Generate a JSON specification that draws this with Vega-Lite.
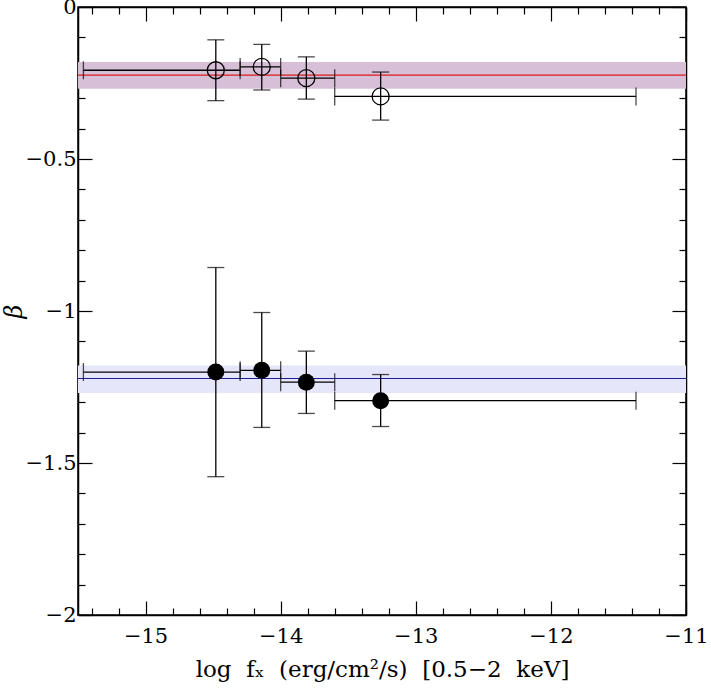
{
  "$schema": "https://vega.github.io/schema/vega-lite/v6.json",
  "width": 608,
  "height": 608,
  "autosize": "none",
  "padding": {"left": 78, "top": 7, "right": 25, "bottom": 76},
  "background": "white",
  "config": {
    "view": {"stroke": "black", "strokeWidth": 1.5},
    "axis": {
      "grid": false,
      "labelFont": "DejaVu Serif",
      "labelFontSize": 21,
      "labelColor": "black",
      "titleFont": "DejaVu Serif",
      "titleFontSize": 23,
      "titleFontWeight": "normal",
      "titleColor": "black",
      "domainColor": "black",
      "domainWidth": 1.5,
      "tickColor": "black",
      "tickWidth": 1.2,
      "labelFlush": false,
      "labelOverlap": false
    }
  },
  "datasets": {
    "pts": [
      {"group": "open", "x": -14.48, "xlo": -15.46, "xhi": -14.30, "y": -0.208, "ylo": -0.308, "yhi": -0.108},
      {"group": "open", "x": -14.14, "xlo": -14.30, "xhi": -14.00, "y": -0.197, "ylo": -0.273, "yhi": -0.123},
      {"group": "open", "x": -13.81, "xlo": -14.00, "xhi": -13.60, "y": -0.234, "ylo": -0.303, "yhi": -0.164},
      {"group": "open", "x": -13.26, "xlo": -13.60, "xhi": -11.37, "y": -0.294, "ylo": -0.372, "yhi": -0.214},
      {"group": "filled", "x": -14.48, "xlo": -15.46, "xhi": -14.30, "y": -1.201, "ylo": -1.545, "yhi": -0.857},
      {"group": "filled", "x": -14.14, "xlo": -14.30, "xhi": -14.00, "y": -1.195, "ylo": -1.383, "yhi": -1.005},
      {"group": "filled", "x": -13.81, "xlo": -14.00, "xhi": -13.60, "y": -1.234, "ylo": -1.337, "yhi": -1.132},
      {"group": "filled", "x": -13.26, "xlo": -13.60, "xhi": -11.37, "y": -1.295, "ylo": -1.380, "yhi": -1.209}
    ],
    "bands": [
      {"group": "open", "y": -0.224, "ylo": -0.269, "yhi": -0.181},
      {"group": "filled", "y": -1.222, "ylo": -1.270, "yhi": -1.179}
    ]
  },
  "resolve": {"axis": {"x": "independent", "y": "independent"}},
  "layer": [
    {
      "data": {"name": "bands"},
      "mark": {"type": "rect"},
      "encoding": {
        "y": {
          "field": "ylo", "type": "quantitative",
          "scale": {"domain": [-2, 0], "nice": false, "zero": false},
          "axis": {
            "orient": "left",
            "values": [0, -0.5, -1, -1.5, -2],
            "format": "~g",
            "labelExpr": "replace(datum.label, '-', '−')",
            "tickSize": -14,
            "labelPadding": 16,
            "title": "β",
            "titleFontSize": 24,
            "titleFontStyle": "italic",
            "titleX": -52,
            "titleY": 304,
            "titleAlign": "center",
            "titleBaseline": "bottom"
          }
        },
        "y2": {"field": "yhi"},
        "fill": {"field": "group", "type": "nominal", "scale": {"domain": ["open", "filled"], "range": ["#d8bfd8", "#e6e6fa"]}, "legend": null}
      }
    },
    {
      "data": {"name": "bands"},
      "mark": {"type": "rule", "strokeWidth": 1.2},
      "encoding": {
        "y": {
          "field": "y", "type": "quantitative",
          "axis": {"orient": "right", "values": [0, -0.5, -1, -1.5, -2], "labels": false, "title": null, "tickSize": -14}
        },
        "stroke": {"field": "group", "type": "nominal", "scale": {"domain": ["open", "filled"], "range": ["#d81b1b", "#1c1c9c"]}, "legend": null}
      }
    },
    {
      "data": {"name": "pts"},
      "mark": {"type": "rule", "color": "black", "strokeWidth": 1.3},
      "encoding": {
        "x": {
          "field": "xlo", "type": "quantitative",
          "scale": {"domain": [-15.5, -11], "nice": false, "zero": false},
          "axis": {
            "orient": "bottom",
            "values": [-15, -14, -13, -12, -11],
            "format": "d",
            "labelExpr": "replace(datum.label, '-', '−')",
            "tickSize": -14,
            "labelPadding": 24,
            "title": "log\u00a0 f\u2093\u00a0 (erg/cm²/s)\u00a0 [0.5−2\u00a0 keV]",
            "titlePadding": 12
          }
        },
        "x2": {"field": "xhi"},
        "y": {"field": "y", "type": "quantitative", "axis": null}
      }
    },
    {
      "data": {"name": "pts"},
      "mark": {"type": "rule", "color": "black", "strokeWidth": 1.3},
      "encoding": {
        "x": {
          "field": "x", "type": "quantitative",
          "axis": {"orient": "top", "values": [-15, -14, -13, -12, -11], "labels": false, "title": null, "tickSize": -14}
        },
        "y": {"field": "ylo", "type": "quantitative", "axis": null},
        "y2": {"field": "yhi"}
      }
    },
    {
      "data": {"name": "pts"},
      "transform": [{"fold": ["ylo", "yhi"], "as": ["k", "v"]}],
      "mark": {"type": "tick", "orient": "horizontal", "color": "black", "size": 17, "thickness": 1.3},
      "encoding": {
        "x": {
          "field": "x", "type": "quantitative",
          "axis": {"orient": "bottom", "values": [-15.4, -15.2, -14.8, -14.6, -14.4, -14.2, -13.8, -13.6, -13.4, -13.2, -12.8, -12.6, -12.4, -12.2, -11.8, -11.6, -11.4, -11.2], "labels": false, "title": null, "domain": false, "tickSize": -7}
        },
        "y": {"field": "v", "type": "quantitative", "axis": null}
      }
    },
    {
      "data": {"name": "pts"},
      "transform": [{"fold": ["xlo", "xhi"], "as": ["k", "v"]}],
      "mark": {"type": "tick", "orient": "vertical", "color": "black", "size": 18, "thickness": 1.3},
      "encoding": {
        "x": {
          "field": "v", "type": "quantitative",
          "axis": {"orient": "top", "values": [-15.4, -15.2, -14.8, -14.6, -14.4, -14.2, -13.8, -13.6, -13.4, -13.2, -12.8, -12.6, -12.4, -12.2, -11.8, -11.6, -11.4, -11.2], "labels": false, "title": null, "domain": false, "tickSize": -7}
        },
        "y": {"field": "y", "type": "quantitative", "axis": null}
      }
    },
    {
      "data": {"name": "pts"},
      "transform": [{"filter": "datum.group === 'open'"}],
      "mark": {"type": "point", "shape": "circle", "filled": false, "stroke": "black", "strokeWidth": 1.3, "size": 289, "opacity": 1},
      "encoding": {
        "x": {"field": "x", "type": "quantitative", "axis": null},
        "y": {
          "field": "y", "type": "quantitative",
          "axis": {"orient": "left", "values": [-0.1, -0.2, -0.3, -0.4, -0.6, -0.7, -0.8, -0.9, -1.1, -1.2, -1.3, -1.4, -1.6, -1.7, -1.8, -1.9], "labels": false, "title": null, "domain": false, "tickSize": -7}
        }
      }
    },
    {
      "data": {"name": "pts"},
      "transform": [{"filter": "datum.group === 'filled'"}],
      "mark": {"type": "point", "shape": "circle", "filled": true, "fill": "black", "size": 289, "opacity": 1},
      "encoding": {
        "x": {"field": "x", "type": "quantitative", "axis": null},
        "y": {
          "field": "y", "type": "quantitative",
          "axis": {"orient": "right", "values": [-0.1, -0.2, -0.3, -0.4, -0.6, -0.7, -0.8, -0.9, -1.1, -1.2, -1.3, -1.4, -1.6, -1.7, -1.8, -1.9], "labels": false, "title": null, "domain": false, "tickSize": -7}
        }
      }
    }
  ]
}
